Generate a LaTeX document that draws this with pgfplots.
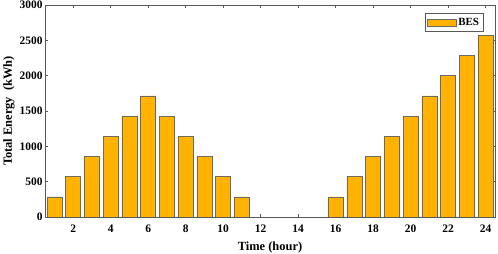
\documentclass[border=0pt]{standalone}
\usepackage{pgfplots}
\pgfplotsset{compat=1.18}
\usepackage{fontspec}
\setmainfont{Liberation Serif}
\definecolor{barc}{HTML}{FFB300}
\definecolor{edgec}{HTML}{6E6A60}
\begin{document}
\begin{tikzpicture}
\useasboundingbox (-45bp,-37bp) rectangle (453bp,217bp);
\begin{axis}[
  scale only axis,
  width=450bp, height=212bp,
  xmin=0.5, xmax=24.5, ymin=0, ymax=3000,
  xtick={2,4,...,24}, ytick={0,500,...,3000},
  tick align=inside, tick pos=both,
  major tick length=3bp,
  every tick/.style={gray!70!black},
  axis line style={gray!70!black},
  /pgf/number format/assume math mode=true,
  scaled y ticks=false,
  yticklabel style={/pgf/number format/1000 sep={}, font=\fontsize{11.5}{12}\selectfont\bfseries, xshift=1bp},
  xticklabel style={font=\fontsize{11.5}{12}\selectfont\bfseries, yshift=-4bp},
  xlabel={Time (hour)}, ylabel={Total Energy\ \ (kWh)},
  xlabel style={font=\fontsize{12.5}{13}\selectfont\bfseries, yshift=-3bp},
  ylabel style={font=\fontsize{12.5}{13}\selectfont\bfseries, yshift=-2bp},
  legend style={at={(0.975,0.96)}, anchor=north east, font=\fontsize{11}{12}\selectfont\bfseries, draw=gray!70!black, inner sep=2.5pt},
  legend image code/.code={\draw[#1] (0cm,-0.13cm) rectangle (1.0cm,0.13cm);},
]
\addplot[ybar, bar width=0.8, fill=barc, draw=edgec, line width=0.6pt] coordinates {
(1,285.7) (2,571.4) (3,857.1) (4,1142.9) (5,1428.6) (6,1714.3) (7,1428.6) (8,1142.9)
(9,857.1) (10,571.4) (11,285.7) (12,0) (13,0) (14,0) (15,0) (16,285.7) (17,571.4)
(18,857.1) (19,1142.9) (20,1428.6) (21,1714.3) (22,2000) (23,2285.7) (24,2571.4)};
\addlegendentry{BES}
\end{axis}
\end{tikzpicture}
\end{document}
